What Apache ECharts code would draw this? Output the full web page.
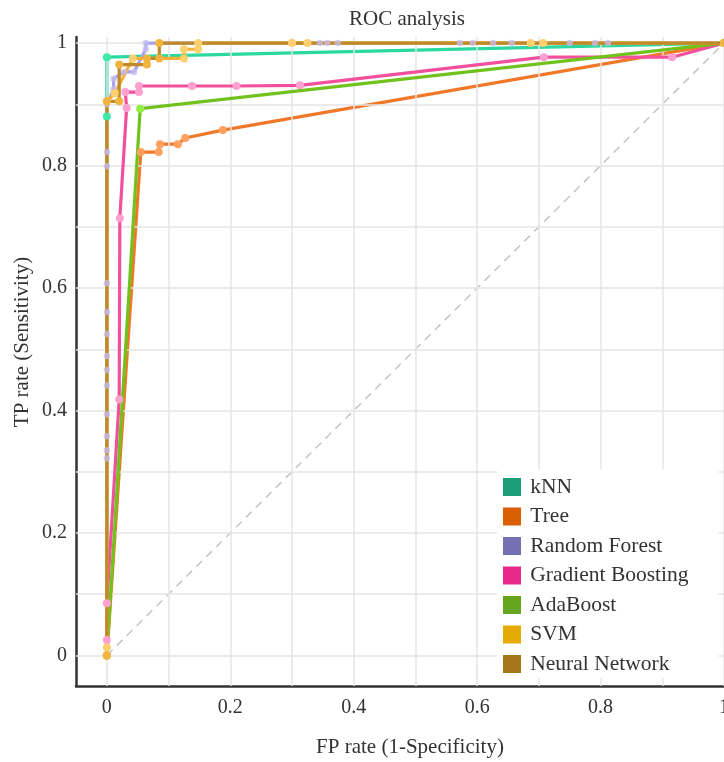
<!DOCTYPE html>
<html>
<head>
<meta charset="utf-8">
<script src="https://cdn.jsdelivr.net/npm/echarts@6/dist/echarts.min.js"></script>
<style>html,body{margin:0;padding:0;background:#fff}#c{width:724px;height:762px}</style>
</head>
<body>
<div id="c"></div>
<script>
// ---- data ----
const seriesNames = ['kNN','Tree','Random Forest','Gradient Boosting','AdaBoost','SVM','Neural Network'];
const legendColors = ['#1b9e77','#d95f02','#7570b3','#e7298a','#66a61e','#e6ab02','#a6761d'];
const lineColors = ['#2ad8a0','#f07828','#a8a0e8','#f2509c','#72c21e','#f5b13a','#c08a28'];
const pointColors = ['#40e8a8','#ffa060','#c4bef0','#ffa0d0','#94ee44','#ffd070','#f2b440'];
const pointSizes = [8, 8, 6.5, 8, 8, 8, 8];
const pointOpacity = [1, 1, 0.75, 1, 1, 1, 1];

const knnFPR = [0, 0, 0, 1];
const knnTPR = [0, 0.88, 0.977, 1];

const treeFPR = [0, 0.055, 0.084, 0.086, 0.115, 0.127, 0.188, 1];
const treeTPR = [0, 0.822, 0.822, 0.835, 0.835, 0.845, 0.858, 1];

const rfFPR = [0, 0, 0, 0, 0, 0, 0, 0, 0, 0, 0, 0, 0, 0, 0.011, 0.011, 0.028, 0.044, 0.063, 0.063, 0.345, 0.357, 0.374, 0.572, 0.593, 0.626, 0.656, 0.750, 0.791, 0.812, 1];
const rfTPR = [0, 0.322, 0.335, 0.358, 0.394, 0.441, 0.466, 0.489, 0.525, 0.561, 0.608, 0.799, 0.822, 0.90, 0.925, 0.942, 0.953, 0.953, 0.99, 1, 1, 1, 1, 1, 1, 1, 1, 1, 1, 1, 1];

const gbFPR = [0, 0, 0, 0.02, 0.021, 0.032, 0.03, 0.052, 0.052, 0.138, 0.21, 0.313, 0.708, 0.916, 1];
const gbTPR = [0, 0.025, 0.085, 0.418, 0.714, 0.894, 0.92, 0.92, 0.93, 0.93, 0.93, 0.931, 0.977, 0.977, 1];

const adaFPR = [0, 0.054, 1];
const adaTPR = [0, 0.893, 1];

const svmFPR = [0, 0, 0, 0.013, 0.042, 0.125, 0.125, 0.148, 0.148, 0.30, 0.325, 0.687, 0.707, 1];
const svmTPR = [0, 0.013, 0.905, 0.918, 0.975, 0.975, 0.99, 0.99, 1, 1, 1, 1, 1, 1];

const nnFPR = [0, 0, 0.02, 0.02, 0.065, 0.065, 0.085, 0.085, 1];
const nnTPR = [0, 0.905, 0.905, 0.965, 0.965, 0.975, 0.975, 1, 1];

const diagFPR = [0, 1];
const diagTPR = [0, 1];

const gridValues = [0, 0.1, 0.2, 0.3, 0.4, 0.5, 0.6, 0.7, 0.8, 0.9, 1];
const tickValues = [0, 0.2, 0.4, 0.6, 0.8, 1];

// ---- build ----
const curves = [
  [knnFPR, knnTPR], [treeFPR, treeTPR], [rfFPR, rfTPR], [gbFPR, gbTPR],
  [adaFPR, adaTPR], [svmFPR, svmTPR], [nnFPR, nnTPR]
];
const zip = (a, b) => a.map((v, i) => [v, b[i]]);
const FONT = '"Liberation Serif", "DejaVu Serif", serif';

const series = [{
  name: 'diag', type: 'line', z: 1, silent: true, symbol: 'none',
  data: zip(diagFPR, diagTPR),
  lineStyle: { color: '#c4c4c4', width: 1.5, type: [8, 6] },
  markLine: {
    silent: true, symbol: ['none', 'none'], animation: false,
    label: { show: false },
    lineStyle: { color: '#e4e4e4', width: 1.5, type: 'solid' },
    emphasis: { disabled: true },
    data: gridValues.map(v => ({ xAxis: v })).concat(gridValues.map(v => ({ yAxis: v })))
  }
}];
curves.forEach((c, i) => {
  series.push({
    name: seriesNames[i], type: 'line', z: 3 + i,
    data: zip(c[0], c[1]),
    symbol: 'none',
    itemStyle: { color: legendColors[i] },
    lineStyle: { color: lineColors[i], width: 3.2 },
    emphasis: { disabled: true }
  });
});
curves.forEach((c, i) => {
  series.push({
    name: seriesNames[i] + ' points', type: 'scatter', z: 12 + i, silent: true,
    data: zip(c[0], c[1]),
    symbol: 'circle', symbolSize: pointSizes[i],
    itemStyle: { color: pointColors[i], opacity: pointOpacity[i] },
    emphasis: { disabled: true }
  });
});

const chart = echarts.init(document.getElementById('c'), null, { renderer: 'canvas' });
chart.setOption({
  animation: false,
  backgroundColor: '#ffffff',
  title: {
    text: 'ROC analysis', left: 402, top: 4, textAlign: 'center',
    textStyle: { fontFamily: FONT, fontSize: 21, fontWeight: 'normal', color: '#333' }
  },
  grid: { left: 76, top: 37, right: 0, height: 649, containLabel: false, outerBoundsMode: 'none' },
  xAxis: {
    type: 'value', min: -0.05, max: 1,
    axisLine: { show: true, onZero: false, lineStyle: { color: '#333', width: 2.5 } },
    axisTick: { show: false },
    splitLine: { show: false },
    axisLabel: {
      customValues: tickValues, margin: 12, showMaxLabel: true,
      fontFamily: FONT, fontSize: 20, color: '#333',
      formatter: v => String(v)
    }
  },
  yAxis: {
    type: 'value', min: -0.05, max: 1.01,
    axisLine: { show: true, onZero: false, lineStyle: { color: '#333', width: 2.5 } },
    axisTick: { show: false },
    splitLine: { show: false },
    axisLabel: {
      customValues: tickValues, margin: 9,
      fontFamily: FONT, fontSize: 20, color: '#333',
      formatter: v => String(v)
    }
  },
  graphic: [
    {
      type: 'text', x: 410, y: 747,
      style: { text: 'FP rate (1-Specificity)', font: '21px ' + FONT, fill: '#333', align: 'center', verticalAlign: 'middle' }
    },
    {
      type: 'text', x: 22, y: 342, rotation: Math.PI / 2,
      style: { text: 'TP rate (Sensitivity)', font: '21px ' + FONT, fill: '#333', align: 'center', verticalAlign: 'middle' }
    }
  ],
  legend: {
    orient: 'vertical', left: 497, top: 469, z: 30,
    backgroundColor: '#ffffff', padding: [7, 30, 3, 6],
    icon: 'rect', itemWidth: 18, itemHeight: 18, itemGap: 7.5,
    formatter: n => '\u2009' + n,
    textStyle: { fontFamily: FONT, fontSize: 21.5, color: '#333' },
    selectedMode: false,
    data: seriesNames.map((n, i) => ({
      name: n, icon: 'rect',
      itemStyle: { color: legendColors[i] },
      lineStyle: { opacity: 0 }
    }))
  },
  series: series
});
</script>
</body>
</html>
